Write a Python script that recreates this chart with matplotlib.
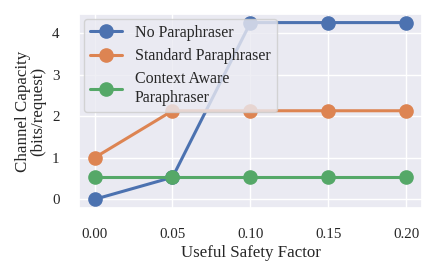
import matplotlib
matplotlib.use("Agg")
import matplotlib.pyplot as plt
import seaborn as sns

x = [0.0, 0.05, 0.10, 0.15, 0.20]
no_para = [0.0, 0.53, 4.25, 4.25, 4.25]
std_para = [1.0, 2.13, 2.13, 2.13, 2.13]
ctx_para = [0.53, 0.53, 0.53, 0.53, 0.53]
labels = ["No Paraphraser", "Standard Paraphraser", "Context Aware\nParaphraser"]

sns.set_theme(style="darkgrid")
plt.rcParams['font.family'] = ['Liberation Serif', 'DejaVu Serif']

fig, ax = plt.subplots(figsize=(4.36, 2.75), dpi=100)
cols = sns.color_palette()
for ys, lab, c in zip([no_para, std_para, ctx_para], labels, cols[:3]):
    ax.plot(x, ys, marker='o', color=c, label=lab, linewidth=2.2, markersize=9.5)

ax.set_xticks(x)
ax.set_xticklabels([f"{v:.2f}" for v in x])
ax.set_yticks([0, 1, 2, 3, 4])
ax.tick_params(axis='both', labelsize=10.8, pad=8)
ax.set_xlabel("Useful Safety Factor", fontsize=12.2, labelpad=3)
ax.set_ylabel("Channel Capacity\n(bits/request)", fontsize=12.2, linespacing=0.9, labelpad=4)
ax.legend(loc='upper left', fontsize=11.5, labelspacing=0.45, handlelength=2,
          borderaxespad=0.3)
fig.subplots_adjust(left=0.181, right=0.968, top=0.95, bottom=0.243)
fig.savefig("out.png", dpi=100)
